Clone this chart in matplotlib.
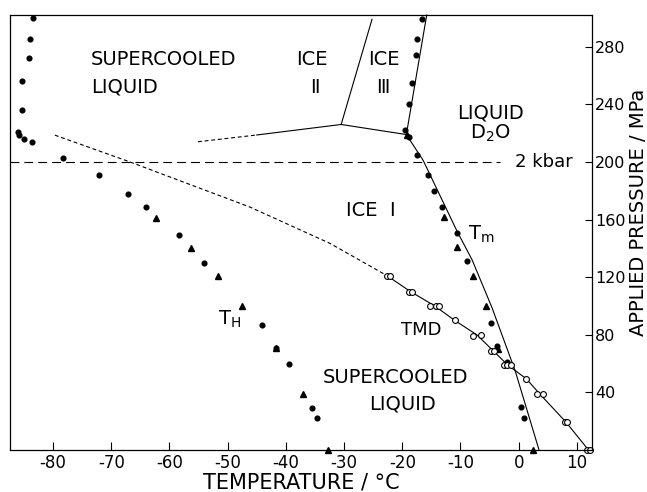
#!/usr/bin/env python3
"""Pressure-temperature diagram of D2O: melting, nucleation and density-maximum lines."""

import matplotlib

matplotlib.use("Agg")
import matplotlib.pyplot as plt

plt.rcParams["font.family"] = ["DejaVu Sans"]
plt.rcParams["axes.unicode_minus"] = False

# homogeneous nucleation (T_H), filled circles and triangles
th_dot_t = [-83.5, -84.0, -84.2, -85.4, -85.4, -86.1, -85.8, -85.0, -83.7, -78.3,
            -72.1, -67.2, -64.0, -58.4, -54.0, -44.1, -41.7, -39.5, -35.5, -34.7]
th_dot_p = [300, 285, 272, 256, 236, 221, 219, 216, 214, 203,
            191, 178, 169, 149, 130, 87, 71, 60, 29, 22]
th_tri_t = [-62.3, -56.3, -51.6, -47.6, -41.7, -37.0, -32.8]
th_tri_p = [161, 140, 121, 100, 71, 39, 0.1]

# melting points (T_m), filled circles and triangles
tm_dot_t = [-16.6, -17.4, -17.7, -18.4, -18.8, -19.5, -18.8, -17.5, -15.6, -14.5,
            -13.2, -10.6, -8.9, -4.7, -3.7, -2.0, 0.4, 1.0]
tm_dot_p = [299, 285, 274, 255, 240, 222, 217, 205, 191, 180,
            169, 151, 131, 88, 72, 61, 30, 22]
tm_tri_t = [-19.2, -12.8, -10.6, -7.9, -5.6, -3.5, 2.4]
tm_tri_p = [219, 162, 141, 121, 100, 70, 0.1]

# temperature of maximum density, open circles
tmd_t = [-22.6, -22.1, -18.8, -18.4, -15.2, -14.2, -13.7, -11.0, -7.8, -6.5, -4.7,
         -4.2, -2.5, -2.0, -1.4, 1.3, 3.2, 4.1, 7.9, 8.3, 11.7, 12.2]
tmd_p = [121, 121, 110, 110, 100, 100, 100, 90, 79, 80, 69,
         69, 59, 59, 59, 49.5, 39, 39, 19.5, 19.5, 0.1, 0.1]

# curves
tmd_fit_t = [-22.6, -18.6, -14.4, -11.0, -7.2, -4.4, -1.9, 1.3, 3.6, 8.1, 12.0]
tmd_fit_p = [121, 110, 100, 90, 80, 69, 59, 49.5, 39, 19.5, 0]
tmd_ext_t = [-79.7, -66.8, -46.2, -32.4, -22.6]
tmd_ext_p = [218.6, 200, 168.7, 143.4, 121]
melt_t = [3.5, -0.6, -4.6, -8.0, -10.6, -16.4, -19.3]
melt_p = [0, 55, 99, 132, 152, 201, 219]
melt3_t = [-19.3, -15.8]
melt3_p = [219, 302]
ice13_t = [-30.5, -19.3]
ice13_p = [226, 219]
ice23_t = [-30.5, -25.2]
ice23_p = [226, 299]
ice12_t = [-45.0, -30.5]
ice12_p = [218.7, 226]
ice12_ext_t = [-55.1, -45.0]
ice12_ext_p = [214, 218.7]

kbar_p = 200
kbar_end_t = -3.2

x_ticks = [-80, -70, -60, -50, -40, -30, -20, -10, 0, 10]
y_ticks = [40, 80, 120, 160, 200, 240, 280]

fig = plt.figure(figsize=(6.47, 4.92), dpi=100)
ax = fig.add_axes([10 / 647, 1 - 450 / 492, 582 / 647, 435 / 492])

lw = 0.8
ax.plot(tmd_fit_t, tmd_fit_p, color="black", lw=lw)
ax.plot(tmd_ext_t, tmd_ext_p, color="black", lw=lw, dashes=(3.5, 2.5))
ax.plot(melt_t, melt_p, color="black", lw=lw)
ax.plot(melt3_t, melt3_p, color="black", lw=lw, clip_on=False)
ax.plot(ice13_t, ice13_p, color="black", lw=lw)
ax.plot(ice23_t, ice23_p, color="black", lw=lw)
ax.plot(ice12_t, ice12_p, color="black", lw=lw)
ax.plot(ice12_ext_t, ice12_ext_p, color="black", lw=lw, dashes=(3.5, 2.5))
ax.plot([-87.4, kbar_end_t], [kbar_p, kbar_p], color="black", lw=lw, dashes=(8, 4.5))

dot_kw = dict(ls="none", marker="o", ms=3.4, color="black", clip_on=False)
tri_kw = dict(ls="none", marker="^", ms=5, color="black", clip_on=False)
ax.plot(th_dot_t, th_dot_p, **dot_kw)
ax.plot(th_tri_t, th_tri_p, **tri_kw)
ax.plot(tm_dot_t, tm_dot_p, **dot_kw)
ax.plot(tm_tri_t, tm_tri_p, **tri_kw)
ax.plot(tmd_t, tmd_p, ls="none", marker="o", ms=4.2, mfc="white", mec="black",
        mew=0.8, clip_on=False)

fs = 14
ax.text(-73.5, 271, "SUPERCOOLED", fontsize=fs, ha="left", va="center")
ax.text(-73.5, 252, "LIQUID", fontsize=fs, ha="left", va="center")
ax.text(-35.5, 271, "ICE", fontsize=fs, ha="center", va="center")
ax.text(-35.0, 252, "Ⅱ", fontsize=fs, ha="center", va="center")
ax.text(-23.1, 271, "ICE", fontsize=fs, ha="center", va="center")
ax.text(-23.3, 252, "Ⅲ", fontsize=fs, ha="center", va="center")
ax.text(-4.9, 234, "LIQUID", fontsize=fs, ha="center", va="center")
ax.text(-4.9, 220, "D$_2$O", fontsize=fs, ha="center", va="center")
ax.text(-0.6, 200, "2 kbar", fontsize=fs - 1, ha="left", va="center")
ax.text(-25.4, 166, "ICE  Ⅰ", fontsize=fs, ha="center", va="center")
ax.text(-8.7, 150, "T$_\\mathregular{m}$", fontsize=fs, ha="left", va="center")
ax.text(-51.7, 91, "T$_\\mathregular{H}$", fontsize=fs, ha="left", va="center")
ax.text(-16.8, 83, "TMD", fontsize=fs - 1, ha="center", va="center")
ax.text(-21.1, 50, "SUPERCOOLED", fontsize=fs, ha="center", va="center")
ax.text(-20.0, 32, "LIQUID", fontsize=fs, ha="center", va="center")

ax.set_xlim(-87.4, 12.6)
ax.set_ylim(0, 302)
ax.set_xticks(x_ticks)
ax.set_yticks(y_ticks)
ax.yaxis.tick_right()
ax.tick_params(axis="x", direction="in", length=6, width=0.8, pad=3, labelsize=12,
               top=False)
ax.tick_params(axis="y", direction="in", length=5, width=0.8, pad=2, labelsize=11.5,
               left=False, right=True)
for spine in ax.spines.values():
    spine.set_linewidth(0.9)

ax.set_xlabel("TEMPERATURE / °C", fontsize=15, labelpad=0)
fig.text(638 / 647, 1 - 212 / 492, "APPLIED PRESSURE / MPa", fontsize=14,
         rotation=90, ha="center", va="center")

fig.savefig("out.png", dpi=100)
